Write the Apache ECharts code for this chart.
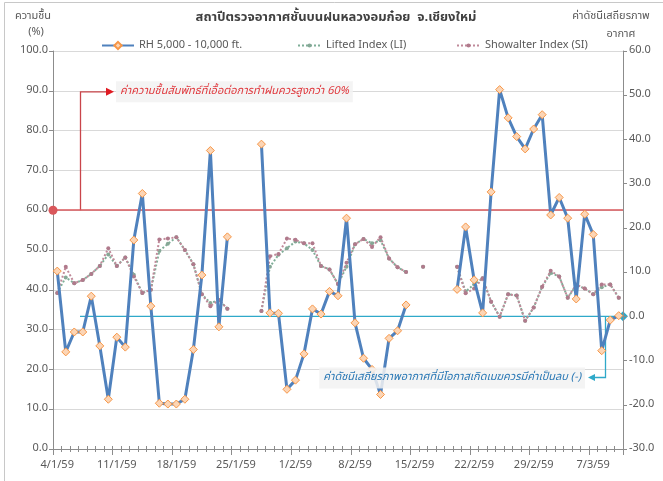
<!DOCTYPE html>
<html><head><meta charset="utf-8">
<script src="https://cdn.jsdelivr.net/npm/echarts@6/dist/echarts.min.js"></script>
<style>html,body{margin:0;padding:0;background:#fff}#c{width:663px;height:481px}</style>
</head><body><div id="c"></div>
<script>
const categories = [
'4/1/59','5/1/59','6/1/59','7/1/59','8/1/59','9/1/59','10/1/59','11/1/59','12/1/59','13/1/59','14/1/59','15/1/59','16/1/59','17/1/59','18/1/59','19/1/59','20/1/59','21/1/59','22/1/59','23/1/59','24/1/59','25/1/59','26/1/59','27/1/59','28/1/59','29/1/59','30/1/59','31/1/59',
'1/2/59','2/2/59','3/2/59','4/2/59','5/2/59','6/2/59','7/2/59','8/2/59','9/2/59','10/2/59','11/2/59','12/2/59','13/2/59','14/2/59','15/2/59','16/2/59','17/2/59','18/2/59','19/2/59','20/2/59','21/2/59','22/2/59','23/2/59','24/2/59','25/2/59','26/2/59','27/2/59','28/2/59','29/2/59',
'1/3/59','2/3/59','3/3/59','4/3/59','5/3/59','6/3/59','7/3/59','8/3/59','9/3/59','10/3/59'];
const tickLabels = ['4/1/59','11/1/59','18/1/59','25/1/59','1/2/59','8/2/59','15/2/59','22/2/59','29/2/59','7/3/59'];
const rhValues = [
44.7,24.4,29.4,29.4,38.4,25.9,12.5,28.1,25.6,52.5,64.2,35.9,11.5,11.3,11.3,12.5,25.0,43.7,75.0,30.7,53.3,
null,null,null,
76.6,34.2,34.1,15.0,17.3,23.9,35.2,33.9,39.6,38.5,58.0,31.7,22.8,20.0,13.7,27.8,29.7,36.2,
null,null,null,null,null,
40.1,55.8,42.5,34.2,64.6,90.3,83.2,78.5,75.4,80.4,84.0,58.8,63.2,58.0,37.7,59.0,53.9,24.7,32.4,33.5];
const liValues = [
5.3,8.8,7.5,8.2,9.6,11.4,14.0,11.4,13.3,9.4,5.3,6.0,14.8,16.4,17.9,15.0,11.8,5.0,3.0,3.7,1.7,
null,null,null,
1.2,11.2,13.9,15.4,16.9,16.5,15.0,11.4,10.6,7.3,11.2,16.3,17.5,16.5,17.2,13.1,11.1,10.0,
null,11.2,null,null,null,
11.2,5.6,7.2,8.6,3.3,-0.1,5.0,4.7,-1.0,2.0,6.7,9.8,9.0,4.2,7.0,6.3,5.0,6.6,7.2,4.2];
const siValues = [
5.3,11.2,7.5,8.2,9.6,11.4,15.4,11.4,13.3,9.0,5.3,6.0,17.4,17.6,17.9,15.0,11.8,5.0,2.3,3.7,1.7,
null,null,null,
1.2,13.6,14.1,17.6,17.3,16.5,16.5,11.4,10.6,7.3,12.1,16.3,17.5,15.7,17.9,13.1,11.1,10.0,
null,11.2,null,null,null,
11.2,5.2,6.3,8.6,3.3,-0.1,5.0,4.7,-1.0,2.0,6.7,10.3,9.0,4.2,7.2,6.3,5.0,7.2,7.2,4.2];
const leftAxis = {min: 0, max: 100, step: 10};
const rightAxis = {min: -30, max: 60, step: 10};
const rhThreshold = 60;
const indexThreshold = 0;

const FONT = '"Noto Sans Thai", Tahoma, "Segoe UI", "Noto Sans", "DejaVu Sans", sans-serif';
const TXT = '#595959';
const chart = echarts.init(document.getElementById('c'), null, {renderer: 'canvas'});

const GL = 53, GR = 40, GT = 51, GB = 32;
const xBase = {type: 'category', data: categories, boundaryGap: true, gridIndex: 0, position: 'bottom'};

chart.setOption({
  animation: false,
  backgroundColor: '#fff',
  textStyle: {fontFamily: FONT},
  grid: {left: GL, right: GR, top: GT, bottom: GB, containLabel: false},
  legend: [
    {left: 96, top: 35, itemWidth: 32, itemHeight: 9, itemGap: 4, data: ['RH 5,000 - 10,000 ft.'],
      textStyle: {fontSize: 11, color: TXT, fontFamily: FONT}},
    {left: 292, top: 35, itemWidth: 23, itemHeight: 5, data: ['Lifted Index (LI)'],
      textStyle: {fontSize: 11, color: TXT, fontFamily: FONT}},
    {left: 451, top: 35, itemWidth: 23, itemHeight: 5, data: ['Showalter Index (SI)'],
      textStyle: {fontSize: 11, color: TXT, fontFamily: FONT}}
  ],
  xAxis: [
    Object.assign({}, xBase, {
      axisLine: {show: true, onZero: false, lineStyle: {color: '#8c8c8c', width: 1}},
      axisTick: {show: true, interval: 0, length: 3, inside: false, lineStyle: {color: '#8c8c8c'}},
      axisLabel: {interval: (i, v) => tickLabels.indexOf(v) >= 0, margin: 11, fontSize: 11, color: TXT, fontFamily: FONT},
      splitLine: {show: false}
    }),
    Object.assign({}, xBase, {
      axisLine: {show: false, onZero: false},
      axisTick: {show: true, interval: 0, length: 3, inside: true, lineStyle: {color: '#8c8c8c'}},
      axisLabel: {show: false}, splitLine: {show: false}
    }),
    Object.assign({}, xBase, {
      axisLine: {show: false, onZero: false},
      axisTick: {show: true, interval: (i, v) => tickLabels.indexOf(v) >= 0, length: 6, inside: false, lineStyle: {color: '#8c8c8c'}},
      axisLabel: {show: false}, splitLine: {show: false}
    })
  ],
  yAxis: [
    {type: 'value', min: leftAxis.min, max: leftAxis.max, interval: leftAxis.step, position: 'left',
      axisLine: {show: true, lineStyle: {color: '#8c8c8c'}},
      axisTick: {show: true, length: 4, lineStyle: {color: '#8c8c8c'}},
      axisLabel: {formatter: v => v.toFixed(1), fontSize: 11, color: TXT, margin: 5, fontFamily: FONT},
      splitLine: {show: true, lineStyle: {color: '#d9d9d9', width: 1}}},
    {type: 'value', min: rightAxis.min, max: rightAxis.max, interval: rightAxis.step, position: 'right',
      axisLine: {show: true, lineStyle: {color: '#8c8c8c'}},
      axisTick: {show: true, length: 4, lineStyle: {color: '#8c8c8c'}},
      axisLabel: {formatter: v => v.toFixed(1), fontSize: 11, color: TXT, margin: 6, fontFamily: FONT},
      splitLine: {show: false}}
  ],
  series: [
    {name: 'RH 5,000 - 10,000 ft.', type: 'line', xAxisIndex: 0, yAxisIndex: 0, data: rhValues, z: 5,
      symbol: 'diamond', symbolSize: 8, showAllSymbol: true, connectNulls: false,
      lineStyle: {color: '#4f81bd', width: 3},
      itemStyle: {color: '#fcd5b5', borderColor: '#f79646', borderWidth: 1},
      markLine: {silent: true, symbol: ['circle', 'none'], symbolSize: 9, label: {show: false},
        lineStyle: {color: '#d9575b', width: 1.5, type: 'solid'},
        itemStyle: {color: '#e8353b'},
        data: [{yAxis: rhThreshold}]}},
    {name: 'Lifted Index (LI)', type: 'line', xAxisIndex: 0, yAxisIndex: 1, data: liValues, z: 3,
      symbol: 'circle', symbolSize: 4, showAllSymbol: true, connectNulls: false,
      lineStyle: {color: '#7fae98', width: 2, type: [2, 2]},
      itemStyle: {color: '#86a896'}},
    {name: 'Showalter Index (SI)', type: 'line', xAxisIndex: 0, yAxisIndex: 1, data: siValues, z: 4,
      symbol: 'circle', symbolSize: 4, showAllSymbol: true, connectNulls: false,
      lineStyle: {color: '#c08a9a', width: 2, type: [2, 2]},
      itemStyle: {color: '#b07a8c'}}
  ]
});

const y60 = chart.convertToPixel({yAxisIndex: 0}, rhThreshold);
const y90 = chart.convertToPixel({yAxisIndex: 0}, 90);
const y0 = chart.convertToPixel({yAxisIndex: 1}, indexThreshold);
const xRight = 663 - GR;
const redC = '#c9454a', cyanC = '#2fa9c9';

chart.setOption({
  graphic: [
    {type: 'rect', shape: {x: 4.5, y: 2.5, width: 700, height: 500}, style: {fill: 'none', stroke: '#c8c8c8', lineWidth: 1}, silent: true},
    {type: 'text', x: 336, y: 18, style: {text: 'สถาปีตรวจอากาศชั้นบนฝนหลวงอมก๋อย  จ.เชียงใหม่', font: 'bold 13px ' + FONT, fill: '#404040', align: 'center', verticalAlign: 'middle'}},
    {type: 'text', x: 33, y: 17, style: {text: 'ความชื้น', font: '11px ' + FONT, fill: TXT, align: 'center', verticalAlign: 'middle'}},
    {type: 'text', x: 36, y: 33, style: {text: '(%)', font: '11px ' + FONT, fill: TXT, align: 'center', verticalAlign: 'middle'}},
    {type: 'text', x: 611, y: 17, style: {text: 'ค่าดัชนีเสถียรภาพ', font: '11px ' + FONT, fill: TXT, align: 'center', verticalAlign: 'middle'}},
    {type: 'text', x: 621, y: 35, style: {text: 'อากาศ', font: '11px ' + FONT, fill: TXT, align: 'center', verticalAlign: 'middle'}},
    {type: 'polyline', shape: {points: [[80.5, y60], [80.5, y90 + 1], [108, y90 + 1]]}, style: {stroke: redC, lineWidth: 1.3, fill: 'none'}, silent: true},
    {type: 'polygon', shape: {points: [[106, y90 - 3], [114, y90 + 1], [106, y90 + 5]]}, style: {fill: '#e01b22'}, silent: true},
    {type: 'text', x: 116, y: y90 + 1, z: 50, style: {text: 'ค่าความชื้นสัมพัทธ์ที่เอื้อต่อการทำฝนควรสูงกว่า 60%', font: 'italic 11px ' + FONT, fill: '#e0393e', align: 'left', verticalAlign: 'middle', backgroundColor: 'rgba(242,242,242,0.85)', padding: [5, 4]}},
    {type: 'line', shape: {x1: 80, y1: y0, x2: xRight, y2: y0}, style: {stroke: cyanC, lineWidth: 1.3}, silent: true},
    {type: 'polygon', shape: {points: [[xRight, y0 - 5], [xRight + 5, y0], [xRight, y0 + 5], [xRight - 5, y0]]}, style: {fill: cyanC}, silent: true},
    {type: 'polyline', shape: {points: [[605.5, y0], [605.5, 377.5], [594, 377.5]]}, style: {stroke: cyanC, lineWidth: 1.3, fill: 'none'}, silent: true},
    {type: 'polygon', shape: {points: [[595, 374], [588, 377.5], [595, 381]]}, style: {fill: cyanC}, silent: true},
    {type: 'text', x: 585, y: 378, z: 50, style: {text: 'ค่าดัชนีเสถียรภาพอากาศที่มีโอกาสเกิดเมฆควรมีค่าเป็นลบ (-)', font: 'italic 11px ' + FONT, fill: '#2a78b5', align: 'right', verticalAlign: 'middle', backgroundColor: 'rgba(242,242,242,0.85)', padding: [5, 4]}}
  ]
});
</script>
</body></html>
